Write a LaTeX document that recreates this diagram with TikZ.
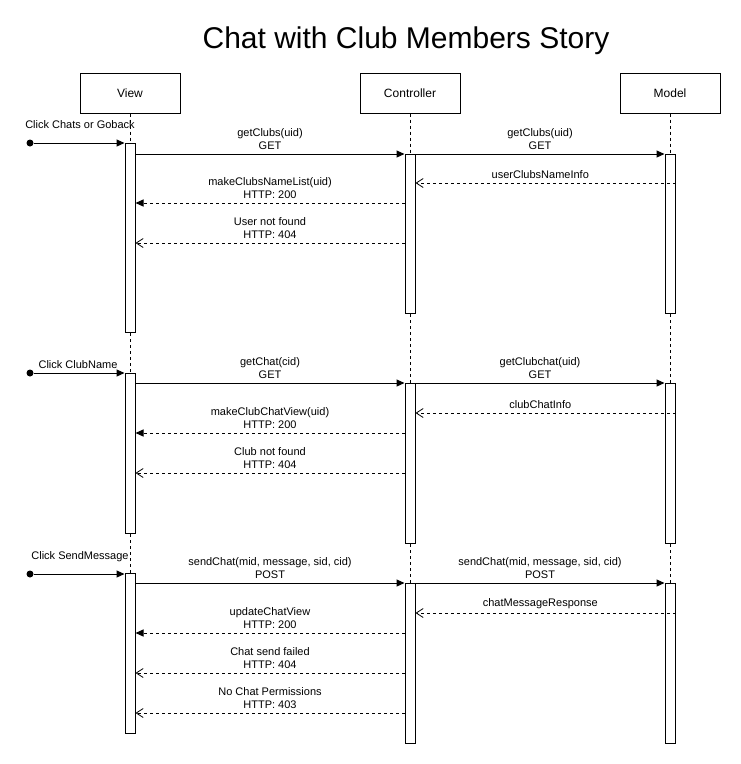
\documentclass[tikz,border=0pt]{standalone}
\usepackage{fontspec}
\setmainfont{Liberation Sans}
\usetikzlibrary{arrows.meta}

\begin{document}
\begin{tikzpicture}[x=1pt,y=-1pt,line width=1pt,
	every node/.style={font=\fontsize{11}{13}\selectfont},
	actor/.style={draw,minimum width=100pt,minimum height=40pt,inner sep=0pt,font=\fontsize{12}{14}\selectfont},
	bar/.style={draw,fill=white,minimum width=10pt,inner sep=0pt,anchor=north},
	start/.style={circle,fill=black,inner sep=0pt,minimum size=7pt},
	life/.style={dash pattern=on 3pt off 3pt},
	call/.style={-{Triangle[length=8pt,width=7pt]}},
	reply/.style={dash pattern=on 3pt off 3pt,-{Triangle[length=8pt,width=7pt]}},
	fail/.style={dash pattern=on 3pt off 3pt,-{Straight Barb[length=7pt,width=9pt,line width=.8pt]}},
	msg/.style={above,align=center,inner sep=3.5pt}]
	\useasboundingbox (0,0) rectangle (741,764);
	
	\node[font=\fontsize{30}{35}\selectfont,anchor=base] (title) at (406,48) {Chat with Club Members Story};
	
	%the three participants
	\node[actor] (view) at (130,93) {View};
	\node[actor] (ctrl) at (410,93) {Controller};
	\node[actor] (model) at (670,93) {Model};
	
	%activation bars, one row per story step
	\node[bar,minimum height=189pt] (v1) at (130,143) {};
	\node[bar,minimum height=160pt] (v2) at (130,373) {};
	\node[bar,minimum height=160pt] (v3) at (130,573) {};
	\node[bar,minimum height=159pt] (c1) at (410,154) {};
	\node[bar,minimum height=160pt] (c2) at (410,383) {};
	\node[bar,minimum height=160pt] (c3) at (410,583) {};
	\node[bar,minimum height=159pt] (m1) at (670,154) {};
	\node[bar,minimum height=160pt] (m2) at (670,383) {};
	\node[bar,minimum height=160pt] (m3) at (670,583) {};
	
	%lifelines between the bars
	\foreach \a/\b in {view/v1,v1/v2,v2/v3,ctrl/c1,c1/c2,c2/c3,model/m1,m1/m2,m2/m3}
	\draw[life] (\a.south) -- (\b.north);
	
	%step 1: clubs list
	\node[start] (s1) at (30,143) {};
	\node[anchor=base] (t1) at (80,128) {Click Chats or Goback};
	\draw[call] (s1) -- (s1 -| v1.west);
	\draw[call] (v1.east |- c1.north) -- node[msg]{getClubs(uid)\\GET} (c1.north west);
	\draw[call] (c1.north east) -- node[msg]{getClubs(uid)\\GET} (m1.north west);
	\draw[fail] (m1.east |- 0,183) -- node[msg,pos=.52]{userClubsNameInfo} (c1.east |- 0,183);
	\draw[reply] (c1.west |- 0,203) -- node[msg]{makeClubsNameList(uid)\\HTTP: 200} (v1.east |- 0,203);
	\draw[fail] (c1.west |- 0,243) -- node[msg]{User not found\\HTTP: 404} (v1.east |- 0,243);
	
	%step 2: open a club chat
	\node[start] (s2) at (30,373) {};
	\node[anchor=base] (t2) at (78,368) {Click ClubName};
	\draw[call] (s2) -- (s2 -| v2.west);
	\draw[call] (v2.east |- c2.north) -- node[msg]{getChat(cid)\\GET} (c2.north west);
	\draw[call] (c2.north east) -- node[msg]{getClubchat(uid)\\GET} (m2.north west);
	\draw[fail] (m2.east |- 0,413) -- node[msg,pos=.52]{clubChatInfo} (c2.east |- 0,413);
	\draw[reply] (c2.west |- 0,433) -- node[msg]{makeClubChatView(uid)\\HTTP: 200} (v2.east |- 0,433);
	\draw[fail] (c2.west |- 0,473) -- node[msg]{Club not found\\HTTP: 404} (v2.east |- 0,473);
	
	%step 3: send a message
	\node[start] (s3) at (30,574) {};
	\node[anchor=base] (t3) at (80,559) {Click SendMessage};
	\draw[call] (s3) -- (s3 -| v3.west);
	\draw[call] (v3.east |- c3.north) -- node[msg]{sendChat(mid, message, sid, cid)\\POST} (c3.north west);
	\draw[call] (c3.north east) -- node[msg]{sendChat(mid, message, sid, cid)\\POST} (m3.north west);
	\draw[fail] (m3.east |- 0,613) -- node[msg,pos=.52]{chatMessageResponse} (c3.east |- 0,613);
	\draw[reply] (c3.west |- 0,633) -- node[msg]{updateChatView\\HTTP: 200} (v3.east |- 0,633);
	\draw[fail] (c3.west |- 0,673) -- node[msg]{Chat send failed\\HTTP: 404} (v3.east |- 0,673);
	\draw[fail] (c3.west |- 0,713) -- node[msg]{No Chat Permissions\\HTTP: 403} (v3.east |- 0,713);
	
\end{tikzpicture}
\end{document}
